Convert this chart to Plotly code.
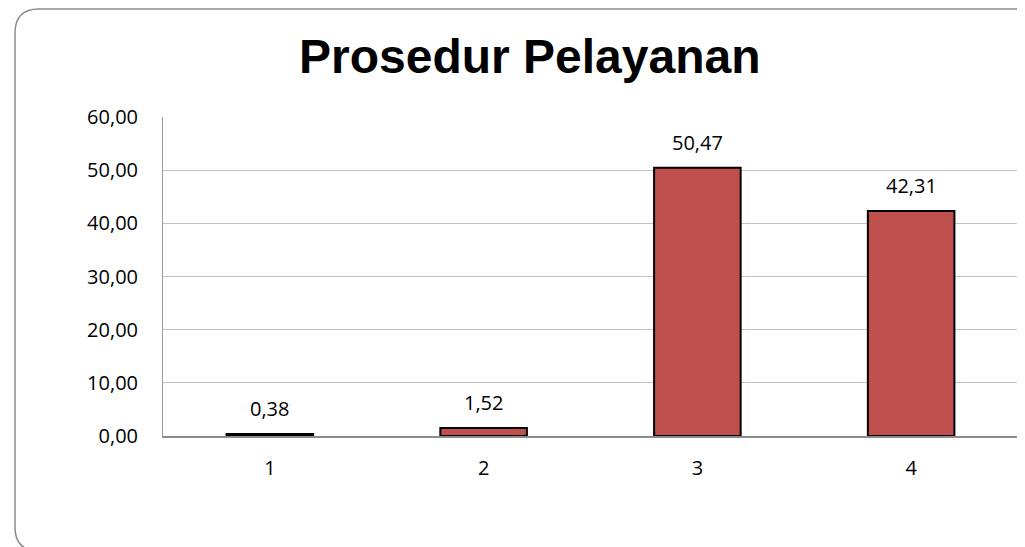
import plotly.graph_objects as go

categories = ["1", "2", "3", "4"]
values = [0.38, 1.52, 50.47, 42.31]
labels = ["0,38", "1,52", "50,47", "42,31"]
y_ticks = [0, 10, 20, 30, 40, 50, 60]

W, H = 1025, 547
OFF = 8  # page offset of the figure
L, R, T, B = 163 - OFF, 1018 - OFF, 117 - OFF, 436 - OFF

def px(x):
    return (x - OFF - L) / (R - L)

def py(y):
    return (B - (y - OFF)) / (B - T)

idx = list(range(len(categories)))

fig = go.Figure()
fig.add_trace(go.Bar(
    x=idx, y=values,
    marker=dict(color="#C0504D", line=dict(color="black", width=2)),
    width=0.405,
))

for i, v, t in zip(idx, values, labels):
    fig.add_annotation(x=i, y=v, text=t, showarrow=False, yanchor="bottom",
                       yshift=10, font=dict(family="Open Sans", size=20, color="black"))

# rounded chart-area border
r = 24
x0, y0, y1 = 15, 9, 551
path = (f"M {px(W+40)},{py(y0)} L {px(x0+r)},{py(y0)} "
        f"Q {px(x0)},{py(y0)} {px(x0)},{py(y0+r)} "
        f"L {px(x0)},{py(y1-r)} Q {px(x0)},{py(y1)} {px(x0+r)},{py(y1)}")
fig.add_shape(type="path", path=path, xref="paper", yref="paper",
              line=dict(color="#8c8c8c", width=1.5))

fig.add_annotation(text="<b>Prosedur Pelayanan</b>", xref="paper", yref="paper",
                   x=px(530), y=py(57), showarrow=False, xanchor="center", yanchor="middle",
                   font=dict(family="Liberation Sans", size=48, color="black"))

fig.update_layout(
    width=W, height=H,
    margin=dict(l=L, r=W - R, t=T, b=H - B, pad=0),
    paper_bgcolor="white", plot_bgcolor="white",
    showlegend=False,
    separators=",.",
    font=dict(family="Open Sans", size=20, color="black"),
)
fig.update_xaxes(
    range=[-0.5, len(categories) - 0.5],
    tickvals=idx, ticktext=categories,
    showline=True, linecolor="#8c8c8c", linewidth=1.5,
    ticks="", ticklabelstandoff=13,
    tickfont=dict(family="Open Sans", size=20, color="black"),
    showgrid=False, zeroline=False,
)
fig.update_yaxes(
    range=[0, 60], tickvals=y_ticks, tickformat=".2f",
    showgrid=True, gridcolor="#c3c3c3", gridwidth=1,
    showline=True, linecolor="#9a9a9a", linewidth=1,
    ticks="", ticklabelstandoff=20, zeroline=False,
    tickfont=dict(family="Open Sans", size=20, color="black"),
)
fig.write_html("out.html")
